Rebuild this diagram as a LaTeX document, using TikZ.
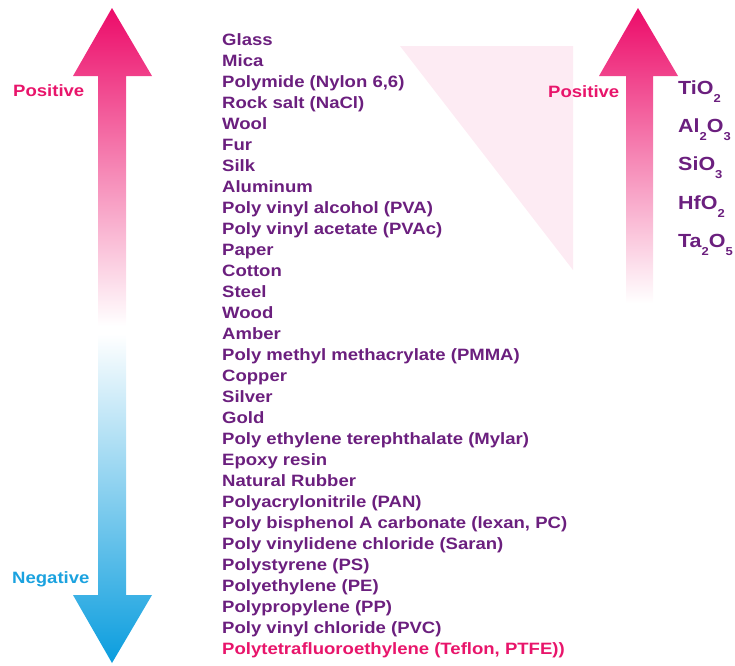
\documentclass[tikz,border=0pt]{standalone}
\usepackage{fontspec}
\setmainfont{Liberation Sans}[FakeStretch=1.13]
\definecolor{txtpurple}{HTML}{6B1F7E}
\definecolor{posPink}{HTML}{EC0B69}
\definecolor{negBlue}{HTML}{0A9DDE}
\definecolor{triPink}{HTML}{FDEBF3}
\definecolor{labPink}{HTML}{E8156B}
\definecolor{labBlue}{HTML}{1BA2DF}
\newcommand{\mysub}[1]{\raisebox{-8pt}{\fontsize{11.5}{12}\selectfont #1}}
\tikzset{
  mat/.style={anchor=base west, inner sep=0pt, text=txtpurple, font=\fontsize{16.4}{18}\selectfont\bfseries},
  oxide/.style={anchor=base west, inner sep=0pt, text=txtpurple, font=\fontsize{19}{20}\selectfont\bfseries},
  lab/.style={anchor=base west, inner sep=0pt, font=\fontsize{16.4}{18}\selectfont\bfseries},
}
\begin{document}
\begin{tikzpicture}[x=1pt,y=-1pt]
\useasboundingbox (0,0) rectangle (735,665);
% background triangle
\fill[triPink] (400,46) -- (573,46) -- (573,270) -- cycle;
% left up arrow
\shade[top color=posPink, bottom color=white]
  (98,326) -- (98,76) -- (73,76) -- (112,8) -- (152,76) -- (126,76) -- (126,326) -- cycle;
% left down arrow
\shade[top color=white, bottom color=negBlue]
  (98,334) -- (98,595) -- (73,595) -- (112,663) -- (152,595) -- (126,595) -- (126,334) -- cycle;
% right up arrow
\shade[top color=posPink, bottom color=white]
  (626,303) -- (626,76) -- (599,76) -- (638,8) -- (678,76) -- (653,76) -- (653,303) -- cycle;
% labels
\node[lab, text=labPink] (posL) at (13,96) {Positive};
\node[lab, text=labBlue] (negL) at (12,583) {Negative};
\node[lab, text=labPink] (posR) at (548,97) {Positive};
% materials list
\foreach \t [count=\i from 0] in {Glass,Mica,Polymide (Nylon 6{,}6),Rock salt (NaCl),Wool,Fur,Silk,Aluminum,Poly vinyl alcohol (PVA),Poly vinyl acetate (PVAc),Paper,Cotton,Steel,Wood,Amber,Poly methyl methacrylate (PMMA),Copper,Silver,Gold,Poly ethylene terephthalate (Mylar),Epoxy resin,Natural Rubber,Polyacrylonitrile (PAN),{Poly bisphenol A carbonate (lexan, PC)},Poly vinylidene chloride (Saran),Polystyrene (PS),Polyethylene (PE),Polypropylene (PP),Poly vinyl chloride (PVC)}
  \node[mat] (m\i) at (222,{45+21.03*\i}) {\t};
\node[mat, text=labPink] (m29) at (222,{45+21.03*29}) {Polytetrafluoroethylene (Teflon, PTFE))};
% oxides
\node[oxide] (ox1) at (678,94) {TiO\mysub{2}};
\node[oxide] (ox2) at (678,132) {Al\mysub{2}O\mysub{3}};
\node[oxide] (ox3) at (678,170) {SiO\mysub{3}};
\node[oxide] (ox4) at (678,209) {HfO\mysub{2}};
\node[oxide] (ox5) at (678,247) {Ta\mysub{2}O\mysub{5}};
\end{tikzpicture}
\end{document}
